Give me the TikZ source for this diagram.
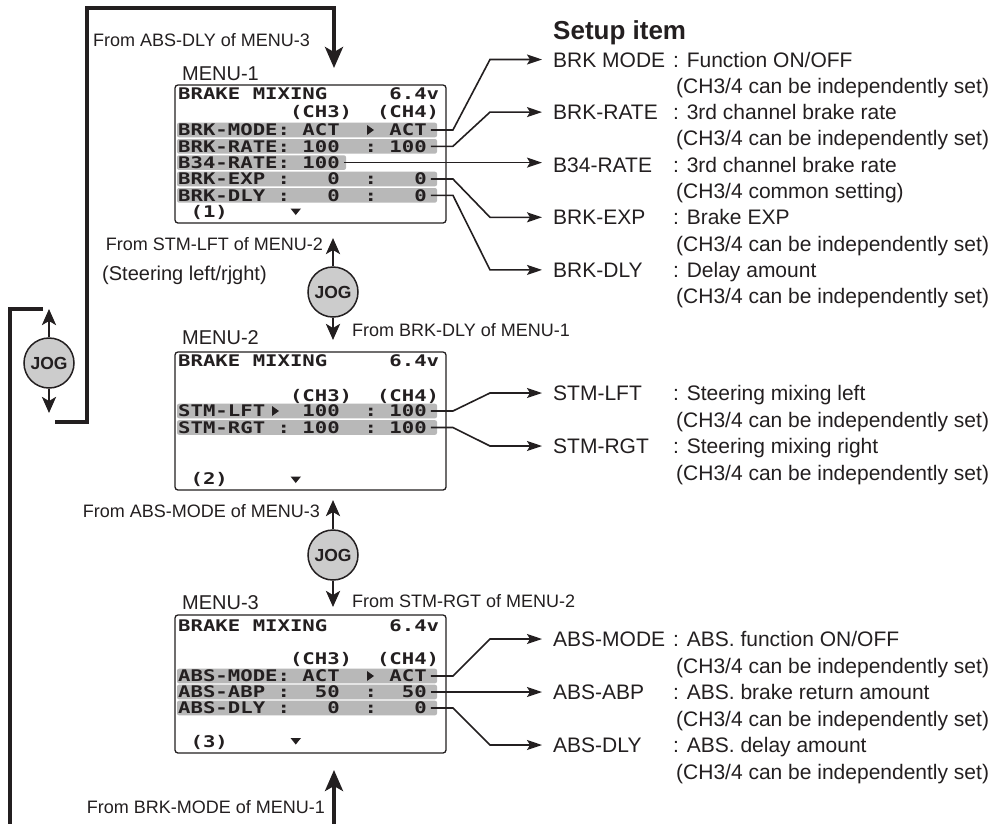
\documentclass[tikz,border=0pt]{standalone}
\usepackage{fontspec}
\setmainfont{Liberation Sans}
\newfontfamily\lcdfont[FakeStretch=1.29]{DejaVu Sans Mono Bold}
\usetikzlibrary{arrows.meta,positioning}
\definecolor{ink}{HTML}{231F20}
\definecolor{lcdbar}{gray}{0.72}
\definecolor{jogfill}{gray}{0.80}

\begin{document}
\begin{tikzpicture}[x=1pt,y=-1pt,
every node/.append style={text=ink},
lcdbox/.style={draw=ink,line width=1.3pt,rounded corners=3pt},
lcdrow/.style={fill=lcdbar,rounded corners=2pt},
lcd/.style={anchor=west,inner sep=0pt,font=\lcdfont\fontsize{16}{16}\selectfont,text height=11.6pt,text depth=0pt},
menulbl/.style={anchor=west,inner sep=0pt,font=\fontsize{20}{22}\selectfont,text height=14.3pt,text depth=0pt},
fromlbl/.style={inner sep=0pt,font=\fontsize{18}{20}\selectfont,text height=12.9pt,text depth=0pt},
item/.style={anchor=west,inner xsep=11pt,inner ysep=0pt,font=\fontsize{21}{24}\selectfont,text height=15pt,text depth=0pt},
desc/.style={anchor=west,inner sep=0pt,font=\fontsize{21}{24}\selectfont,text height=15pt,text depth=0pt},
jog/.style={circle,draw=ink,line width=1.5pt,fill=jogfill,minimum size=50pt,inner sep=0pt,font=\bfseries\fontsize{17.5}{18}\selectfont},
conn/.style={draw=ink,line width=1.6pt,-{Stealth[length=15pt,width=10pt,inset=3pt]}},
jogarr/.style={draw=ink,line width=2.8pt,-{Stealth[length=16pt,width=14pt,inset=4pt]}},
loopline/.style={draw=ink,line width=3.6pt},
looparr/.style={loopline,-{Stealth[length=21pt,width=18pt,inset=5pt]}}]
\useasboundingbox (0,0) rectangle (1004,823);
\fill[white] (0,0) rectangle (1004,823);
\clip (0,0) rectangle (1004,823);

% loops round the three menus
\coordinate (topstart) at (55,422);
\coordinate (topcorner) at (87,8);
\coordinate (m1in) at (334,68);
\coordinate (botstart) at (43,309);
\coordinate (botcorner) at (10,840);
\coordinate (m3in) at (334,770);
\draw[looparr] (topstart) -| (topcorner) -| (m1in);
\draw[looparr] (botstart) -| (botcorner) -| (m3in);

% jog dials
\node[jog] (jog0) at (49,363) {JOG};
\node[jog] (jog1) at (333,292) {JOG};
\node[jog] (jog2) at (333,555) {JOG};
\coordinate (jog0up) at (49,309);
\coordinate (jog0dn) at (49,413);
\coordinate (jog1up) at (333,238);
\coordinate (jog1dn) at (333,340);
\coordinate (jog2up) at (333,500);
\coordinate (jog2dn) at (333,607);
\draw[jogarr] (jog0) -- (jog0up);
\draw[jogarr] (jog0) -- (jog0dn);
\draw[jogarr] (jog1) -- (jog1up);
\draw[jogarr] (jog1) -- (jog1dn);
\draw[jogarr] (jog2) -- (jog2up);
\draw[jogarr] (jog2) -- (jog2dn);

\node[fromlbl,anchor=west] (from1) at (93,40) {From ABS-DLY of MENU-3};
\node[fromlbl,anchor=east] (from2) at (323,244) {From STM-LFT of MENU-2};
\node[menulbl] (steer) at (102,273) {(Steering left/rjght)};
\node[fromlbl,anchor=west] (from3) at (352,330) {From BRK-DLY of MENU-1};
\node[fromlbl,anchor=east] (from4) at (320,511) {From ABS-MODE of MENU-3};
\node[fromlbl,anchor=west] (from5) at (352,601) {From STM-RGT of MENU-2};
\node[fromlbl,anchor=east] (from6) at (325,807) {From BRK-MODE of MENU-1};

% MENU-1
\node[menulbl] (menu1) at (182,73) {MENU-1};
\draw[lcdbox] (175,85) rectangle (446,223);
\foreach \y in {130,146.3,179,195.3}
  \fill[lcdrow] (177,\y-7.3) rectangle (437,\y+7.3);
\fill[lcdrow] (177,162.6-7.3) rectangle (346,162.6+7.3);
\node[lcd] (m1t) at (178,94) {BRAKE~MIXING~~~~~6.4v};
\node[lcd] (m1ch) at (178,112) {~~~~~~~~~(CH3)~~(CH4)};
\node[lcd] (m1r1) at (178,130) {BRK-MODE:~ACT~~~~ACT};
\node[lcd] (m1r2) at (178,146.3) {BRK-RATE:~100~~:~100};
\node[lcd] (m1r3) at (178,162.6) {B34-RATE:~100};
\node[lcd] (m1r4) at (178,179) {BRK-EXP~:~~~0~~:~~~0};
\node[lcd] (m1r5) at (178,195.3) {BRK-DLY~:~~~0~~:~~~0};
\node[lcd] (m1b) at (178,212) {~(1)};
\fill[ink] (367,125) -- (374,130) -- (367,135) -- cycle;
\fill[ink] (290.5,208.5) -- (301,208.5) -- (295.75,215) -- cycle;

% MENU-2
\node[menulbl] (menu2) at (182,337) {MENU-2};
\draw[lcdbox] (175,352) rectangle (446,490);
\foreach \y in {411,427.5}
  \fill[lcdrow] (177,\y-7.3) rectangle (437,\y+7.3);
\node[lcd] (m2t) at (178,361) {BRAKE~MIXING~~~~~6.4v};
\node[lcd] (m2ch) at (178,396) {~~~~~~~~~(CH3)~~(CH4)};
\node[lcd] (m2r1) at (178,411) {STM-LFT~~~100~~:~100};
\node[lcd] (m2r2) at (178,427.5) {STM-RGT~:~100~~:~100};
\node[lcd] (m2b) at (178,479) {~(2)};
\fill[ink] (272,406) -- (279,411) -- (272,416) -- cycle;
\fill[ink] (290.5,476.5) -- (301,476.5) -- (295.75,483) -- cycle;

% MENU-3
\node[menulbl] (menu3) at (182,602) {MENU-3};
\draw[lcdbox] (175,615) rectangle (446,753);
\foreach \y in {676,692,708}
  \fill[lcdrow] (177,\y-7.3) rectangle (437,\y+7.3);
\node[lcd] (m3t) at (178,626) {BRAKE~MIXING~~~~~6.4v};
\node[lcd] (m3ch) at (178,659) {~~~~~~~~~(CH3)~~(CH4)};
\node[lcd] (m3r1) at (178,676) {ABS-MODE:~ACT~~~~ACT};
\node[lcd] (m3r2) at (178,692) {ABS-ABP~:~~50~~:~~50};
\node[lcd] (m3r3) at (178,708) {ABS-DLY~:~~~0~~:~~~0};
\node[lcd] (m3b) at (178,742) {~(3)};
\fill[ink] (367,671) -- (374,676) -- (367,681) -- cycle;
\fill[ink] (290.5,738) -- (301,738) -- (295.75,744.5) -- cycle;

% setup items
\node[anchor=west,inner sep=0pt,font=\bfseries\fontsize{26}{28}\selectfont,text height=18.6pt,text depth=0pt] (setup) at (553,30) {Setup item};

\node[item] (brkmode) at (542,59.5) {BRK MODE};
\node[desc] (brkmodetxt) at (673,59.5) {: Function ON/OFF};
\node[desc] (brkmodech) at (676,85.8) {(CH3/4 can be independently set)};
\node[item] (brkrate) at (542,112.1) {BRK-RATE};
\node[desc] (brkratetxt) at (673,112.1) {: 3rd channel brake rate};
\node[desc] (brkratech) at (676,138.4) {(CH3/4 can be independently set)};
\node[item] (b34rate) at (542,164.7) {B34-RATE};
\node[desc] (b34ratetxt) at (673,164.7) {: 3rd channel brake rate};
\node[desc] (b34ratech) at (676,191.0) {(CH3/4 common setting)};
\node[item] (brkexp) at (542,217.3) {BRK-EXP};
\node[desc] (brkexptxt) at (673,217.3) {: Brake EXP};
\node[desc] (brkexpch) at (676,243.6) {(CH3/4 can be independently set)};
\node[item] (brkdly) at (542,269.9) {BRK-DLY};
\node[desc] (brkdlytxt) at (673,269.9) {: Delay amount};
\node[desc] (brkdlych) at (676,296.2) {(CH3/4 can be independently set)};

\node[item] (stmlft) at (542,393) {STM-LFT};
\node[desc] (stmlfttxt) at (673,393) {: Steering mixing left};
\node[desc] (stmlftch) at (676,419.5) {(CH3/4 can be independently set)};
\node[item] (stmrgt) at (542,446) {STM-RGT};
\node[desc] (stmrgttxt) at (673,446) {: Steering mixing right};
\node[desc] (stmrgtch) at (676,472.5) {(CH3/4 can be independently set)};

\node[item] (absmode) at (542,639) {ABS-MODE};
\node[desc] (absmodetxt) at (673,639) {: ABS. function ON/OFF};
\node[desc] (absmodech) at (676,665.5) {(CH3/4 can be independently set)};
\node[item] (absabp) at (542,692) {ABS-ABP};
\node[desc] (absabptxt) at (673,692) {: ABS. brake return amount};
\node[desc] (absabpch) at (676,718.5) {(CH3/4 can be independently set)};
\node[item] (absdly) at (542,745) {ABS-DLY};
\node[desc] (absdlytxt) at (673,745) {: ABS. delay amount};
\node[desc] (absdlych) at (676,771.5) {(CH3/4 can be independently set)};

% leader lines from the LCD rows
\draw[conn] ([xshift=4pt]m1r1.east) -- ++(22,0) -- ([xshift=-52pt]brkmode.west) -- (brkmode.west);
\draw[conn] ([xshift=4pt]m1r2.east) -- ++(22,0) -- ([xshift=-52pt]brkrate.west) -- (brkrate.west);
\draw[conn] ([xshift=4pt]m1r3.east) -- (m1r3 -| b34rate.west);
\draw[conn] ([xshift=4pt]m1r4.east) -- ++(22,0) -- ([xshift=-52pt]brkexp.west) -- (brkexp.west);
\draw[conn] ([xshift=4pt]m1r5.east) -- ++(22,0) -- ([xshift=-52pt]brkdly.west) -- (brkdly.west);
\draw[conn] ([xshift=4pt]m2r1.east) -- ++(22,0) -- ([xshift=-52pt]stmlft.west) -- (stmlft.west);
\draw[conn] ([xshift=4pt]m2r2.east) -- ++(22,0) -- ([xshift=-52pt]stmrgt.west) -- (stmrgt.west);
\draw[conn] ([xshift=4pt]m3r1.east) -- ++(22,0) -- ([xshift=-52pt]absmode.west) -- (absmode.west);
\draw[conn] ([xshift=4pt]m3r2.east) -- (m3r2 -| absabp.west);
\draw[conn] ([xshift=4pt]m3r3.east) -- ++(22,0) -- ([xshift=-52pt]absdly.west) -- (absdly.west);
\end{tikzpicture}
\end{document}
